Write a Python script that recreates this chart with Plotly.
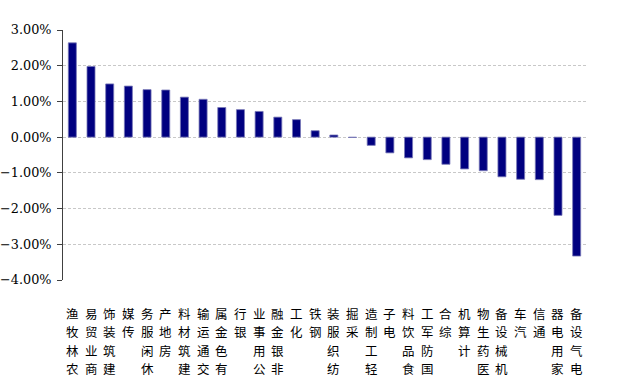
import plotly.graph_objects as go

categories = ["农林牧渔", "商业贸易", "建筑装饰", "传媒", "休闲服务", "房地产", "建筑材料",
              "交通运输", "有色金属", "银行", "公用事业", "非银金融", "化工", "钢铁",
              "纺织服装", "采掘", "轻工制造", "电子", "食品饮料", "国防军工", "综合",
              "计算机", "医药生物", "机械设备", "汽车", "通信", "家用电器", "电气设备"]
values = [2.64, 1.98, 1.49, 1.43, 1.33, 1.32, 1.12, 1.06, 0.83, 0.77, 0.72, 0.56, 0.49, 0.18,
          0.06, -0.01, -0.23, -0.44, -0.58, -0.63, -0.76, -0.89, -0.94, -1.11, -1.18, -1.19,
          -2.19, -3.33]
y_ticks = [3, 2, 1, 0, -1, -2, -3, -4]

n = len(categories)
idx = list(range(n))
yvals = [v / 100 for v in values]

fig = go.Figure()
fig.add_trace(go.Bar(
    x=idx, y=yvals, width=0.43,
    marker=dict(color="#000080", line=dict(color="#7878b8", width=0.8)),
    xaxis="x", yaxis="y", hoverinfo="skip",
))

# vertical stacked category labels (characters upright, read bottom-to-top, top aligned)
annotations = []
for i, name in enumerate(categories):
    chars = list(reversed(list(name)))
    for k, ch in enumerate(chars):
        annotations.append(dict(
            x=i, xref="x", y=0, yref="paper", text=ch, showarrow=False,
            xanchor="center", yanchor="middle", yshift=-(33.5 + 18.3 * k),
            font=dict(family="Noto Sans CJK SC", size=12.5, color="#000000"),
        ))

fig.update_layout(
    width=620, height=386,
    margin=dict(l=63, r=34, t=30, b=106),
    paper_bgcolor="white", plot_bgcolor="white",
    showlegend=False,
    annotations=annotations,
    xaxis=dict(
        range=[-0.5, n - 0.5], showticklabels=False, automargin=False,
        showline=False, ticks="", showgrid=False, zeroline=False,
    ),
    xaxis2=dict(
        overlaying="x", matches="x", anchor="free", position=4 / 7, side="bottom",
        range=[-0.5, n - 0.5], tickmode="array", automargin=False,
        tickvals=[i - 0.5 for i in range(n + 1)],
        showticklabels=False, ticks="inside", ticklen=5, tickcolor="#404040", tickwidth=1,
        showline=True, linecolor="#909090", linewidth=2, showgrid=False, zeroline=False,
    ),
    yaxis=dict(
        range=[-0.04, 0.03], tickmode="array", tickvals=[t / 100 for t in y_ticks],
        tickformat=".2%", showline=True, linecolor="#404040", linewidth=1,
        ticks="outside", ticklen=5, tickcolor="#404040", automargin=False,
        ticklabelstandoff=3,
        showgrid=True, gridcolor="#c8c8c8", gridwidth=1, griddash="3px,2px",
        zeroline=False,
        tickfont=dict(family="DejaVu Serif", size=12.8, color="#000000"),
    ),
)

# remove the browser's default 8px body margin so the figure fills the window exactly
fig.write_html(
    "out.html",
    config={"displayModeBar": False, "staticPlot": True},
    post_script="document.body.style.margin='0';document.body.style.overflow='hidden';",
)
